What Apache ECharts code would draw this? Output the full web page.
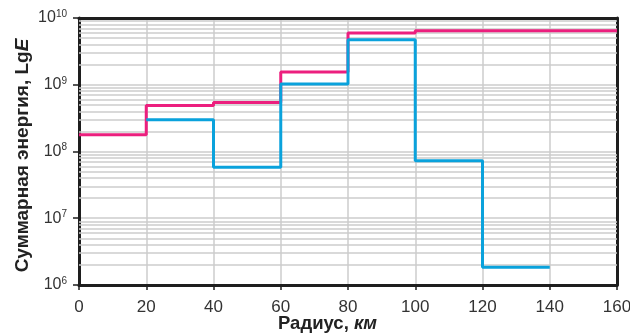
<!DOCTYPE html>
<html><head><meta charset="utf-8">
<script src="https://cdn.jsdelivr.net/npm/echarts@6/dist/echarts.min.js"></script>
<style>html,body{margin:0;padding:0;background:#fff}#c{width:630px;height:335px}</style>
</head><body><div id="c"></div>
<script>
// Pink series: value per 20 km interval (last extends to 160)
const pinkRadius = [0, 20, 40, 60, 80, 100, 160];
const pinkValues = [1.78e8, 4.9e8, 5.4e8, 1.55e9, 5.96e9, 6.45e9, 6.45e9];
// Blue series (starts at 20 km)
const blueRadius = [20, 40, 60, 80, 100, 120, 140];
const blueValues = [3.0e8, 5.8e7, 1.03e9, 4.73e9, 7.25e7, 1.85e6, 1.85e6];
// Y decades (exponents) and minor grid multipliers
const decades = [6, 7, 8, 9];
const minorMult = [2, 3, 4, 5, 6, 7, 8, 9];

const minorLines = [];
decades.forEach(d => minorMult.forEach(m => minorLines.push({ yAxis: m * Math.pow(10, d) })));

const FONT = 'Liberation Sans';
const chart = echarts.init(document.getElementById('c'), null, { renderer: 'canvas' });
chart.setOption({
  animation: false,
  grid: { left: 79, right: 13, top: 18, bottom: 50, show: false, containLabel: false, outerBoundsMode: 'none' },
  xAxis: [{
    type: 'value', min: 0, max: 160, interval: 20,
    name: 'Радиус, {i|км}', nameLocation: 'middle', nameGap: 29, nameMoveOverlap: false,
    nameTextStyle: { fontFamily: FONT, fontSize: 18.5, fontWeight: 'bold', color: '#222', padding: [0, 41, 0, 0],
      rich: { i: { fontFamily: FONT, fontSize: 18.5, fontWeight: 'bold', fontStyle: 'italic', color: '#222' } } },
    axisLine: { show: true, lineStyle: { color: '#1e1e1e', width: 3 } },
    axisTick: { show: true, length: 5, lineStyle: { color: '#1e1e1e', width: 1.5 } },
    axisLabel: { fontFamily: FONT, fontSize: 17, color: '#333', margin: 14 },
    splitLine: { show: true, lineStyle: { color: '#cccccc', width: 1.5 } }
  }, {
    type: 'value', min: 0, max: 160, interval: 20, position: 'top',
    axisLine: { show: true, onZero: false, lineStyle: { color: '#1e1e1e', width: 3 } },
    axisTick: { show: false }, axisLabel: { show: false }, splitLine: { show: false }
  }],
  yAxis: [{
    type: 'log', logBase: 10, min: 1e6, max: 1e10,
    name: 'Суммарная энергия, Lg{i|E}', nameLocation: 'middle', nameGap: 47, nameMoveOverlap: false,
    nameTextStyle: { fontFamily: FONT, fontSize: 19, fontWeight: 'bold', color: '#222', padding: [0, 8, 0, 0],
      rich: { i: { fontFamily: FONT, fontSize: 19, fontWeight: 'bold', fontStyle: 'italic', color: '#222' } } },
    axisLine: { show: true, lineStyle: { color: '#1e1e1e', width: 3 } },
    axisTick: { show: true, length: 6, lineStyle: { color: '#1e1e1e', width: 1.5 } },
    axisLabel: {
      fontFamily: FONT, fontSize: 16, color: '#333', margin: 12,
      formatter: v => '{b|10}{s|' + Math.round(Math.log10(v)) + '}',
      rich: {
        b: { fontFamily: FONT, fontSize: 16, color: '#333', lineHeight: 18 },
        s: { fontFamily: FONT, fontSize: 10, color: '#333', verticalAlign: 'top', lineHeight: 18, padding: [0, 0, 8, 0] }
      }
    },
    splitLine: { show: true, lineStyle: { color: '#cccccc', width: 1.5 } }
  }, {
    type: 'log', logBase: 10, min: 1e6, max: 1e10, position: 'right',
    axisLine: { show: true, onZero: false, lineStyle: { color: '#1e1e1e', width: 3 } },
    axisTick: { show: false }, axisLabel: { show: false }, splitLine: { show: false }
  }],
  series: [
    {
      type: 'line', name: 'grid', data: [], silent: true, z: 1,
      markLine: { silent: true, symbol: 'none', z: 1, label: { show: false },
        lineStyle: { color: '#cccccc', width: 1.5, type: 'solid' }, data: minorLines, animation: false }
    },
    {
      type: 'line', name: 'pink', step: 'end', showSymbol: false, symbol: 'none', z: 3,
      lineStyle: { color: '#ec1f7e', width: 3 },
      data: pinkRadius.map((r, i) => [r, pinkValues[i]])
    },
    {
      type: 'line', name: 'blue', step: 'end', showSymbol: false, symbol: 'none', z: 4,
      lineStyle: { color: '#0aa2dc', width: 3 },
      data: blueRadius.map((r, i) => [r, blueValues[i]])
    }
  ]
});
</script></body></html>
